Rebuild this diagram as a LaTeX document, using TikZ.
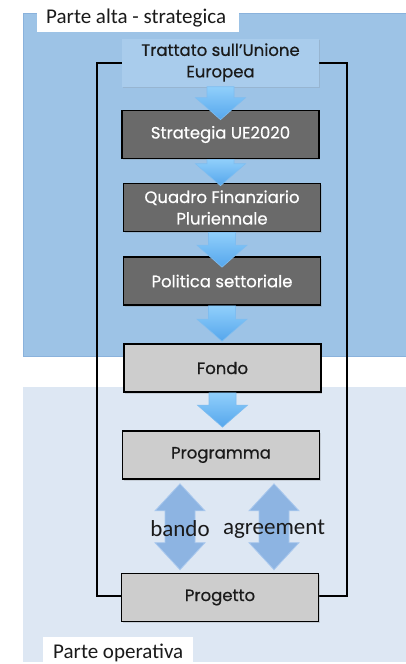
\documentclass[tikz,border=0pt]{standalone}
\usepackage{fontspec}
\setmainfont{Carlito}
\newfontfamily\boxfont{Poppins}[FakeBold=0.6]
\usetikzlibrary{calc,shadows}
\definecolor{topblue}{HTML}{9DC3E6}
\definecolor{topedge}{HTML}{8AB2DC}
\definecolor{lowblue}{HTML}{DDE7F3}
\definecolor{boxdark}{HTML}{6A6A6A}
\definecolor{boxlight}{HTML}{CDCDCD}
\definecolor{headbox}{HTML}{A9CCEC}
\definecolor{arrtop}{HTML}{90CFFB}
\definecolor{arrbot}{HTML}{55A6EC}
\definecolor{arredge}{HTML}{7FBDF0}
\definecolor{dblfill}{HTML}{8DB4E2}
\definecolor{dbledge}{HTML}{A9C8EE}
\definecolor{textdark}{HTML}{1A1A1A}
\tikzset{
  basebox/.style={minimum width=197pt, minimum height=48pt, inner sep=0pt, align=center,
    font=\boxfont\fontsize{16.5}{21.5}\selectfont},
  darkbox/.style={basebox, draw=black, line width=1.6pt, fill=boxdark, text=white,
    drop shadow={shadow xshift=1pt, shadow yshift=-1.5pt, opacity=0.25}},
  lightbox/.style={basebox, draw=black, line width=1.6pt, fill=boxlight, text=textdark,
    drop shadow={shadow xshift=1pt, shadow yshift=-1.5pt, opacity=0.25}},
  headnode/.style={basebox, fill=headbox, text=textdark,
    drop shadow={shadow xshift=1pt, shadow yshift=-1.5pt, opacity=0.2}},
  downarrow/.style={top color=arrtop, bottom color=arrbot, draw=arredge, line width=0.6pt},
  bothway/.style={fill=dblfill, draw=dbledge, line width=0.8pt},
  frameline/.style={draw=black, line width=1.6pt},
  regionlbl/.style={font=\fontsize{21}{25}\selectfont, text=textdark, inner sep=0pt},
  arrlbl/.style={font=\fontsize{23}{27}\selectfont, text=textdark, inner sep=0pt}
}
\newcommand\fatdown[3]{%
  \path[downarrow] let \p1=(#1.south), \p2=(#2.north) in
    (\x1-13.5pt,\y1) -- (\x1+13.5pt,\y1) -- (\x1+13.5pt,\y2-#3pt+22pt)
    -- (\x1+25pt,\y2-#3pt+22pt) -- (\x1,\y2-#3pt) -- (\x1-25pt,\y2-#3pt+22pt)
    -- (\x1-13.5pt,\y2-#3pt+22pt) -- cycle;}
\newcommand\fatboth[3]{%
  \path[bothway] let \p1=(#1.south), \p2=(#2.north) in
    (#3pt,\y1-4pt) -- (#3pt+25pt,\y1-31pt) -- (#3pt+15pt,\y1-31pt)
    -- (#3pt+15pt,\y2+30pt) -- (#3pt+25pt,\y2+30pt) -- (#3pt,\y2+3pt)
    -- (#3pt-25pt,\y2+30pt) -- (#3pt-15pt,\y2+30pt) -- (#3pt-15pt,\y1-31pt)
    -- (#3pt-25pt,\y1-31pt) -- cycle;}
\begin{document}
\begin{tikzpicture}[x=1pt,y=-1pt]
\useasboundingbox (0,0) rectangle (406,664);
% regions
\path[fill=topblue, draw=topedge, line width=0.8pt] (23,13) rectangle (410,356);
\path[fill=lowblue] (23,387) rectangle (410,662);
\fill[white] (37,-2) rectangle (239,32);
\node[regionlbl, anchor=base west] (alta) at (46,23) {Parte alta - strategica};
\fill[white] (43,637) rectangle (193,668);
\node[regionlbl, anchor=base west] (oper) at (53,658) {Parte operativa};
% frame
\draw[frameline] (97,63) rectangle (347,596);
% boxes
\node[headnode] (tue) at (220.5,62.5) {Trattato sull’Unione\\Europea};
\node[darkbox] (strat) at (220.5,134.5) {Strategia UE2020};
\node[darkbox] (qfp) at (222,207.5) {Quadro Finanziario\\Pluriennale};
\node[darkbox] (pol) at (222,281) {Politica settoriale};
\node[lightbox] (fondo) at (222.5,368) {Fondo};
\node[lightbox] (prog) at (221,455) {Programma};
\node[lightbox] (proj) at (220,597.5) {Progetto};
% arrows
\fatdown{tue}{strat}{10}
\fatdown{strat}{qfp}{3}
\fatdown{qfp}{pol}{11}
\fatdown{pol}{fondo}{-2}
\fatdown{fondo}{prog}{-3}
\fatboth{prog}{proj}{180}
\fatboth{prog}{proj}{274}
\node[arrlbl] (bando) at (180,529) {bando};
\node[arrlbl] (agr) at (274,529) {agreement};
\end{tikzpicture}
\end{document}
